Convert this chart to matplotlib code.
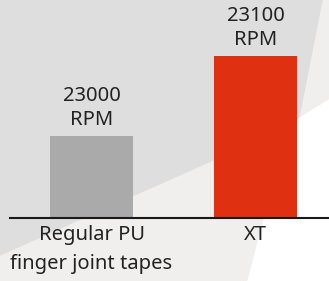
import matplotlib
matplotlib.use("Agg")
import matplotlib.pyplot as plt
from matplotlib.patches import Polygon

# data
categories = ["Regular PU\nfinger joint tapes", "XT"]
speeds = [23000, 23100]
unit = "RPM"
bar_colors = ["#a9aaa9", "#e03012"]

plt.rcParams['font.family'] = ['Noto Sans', 'DejaVu Sans']

W, H = 329, 281
fig = plt.figure(figsize=(W / 100, H / 100), dpi=100)

# background shapes, in pixel coords
bg = fig.add_axes([0, 0, 1, 1], zorder=0)
bg.set_xlim(0, W)
bg.set_ylim(H, 0)
bg.axis("off")
bg.add_patch(Polygon([(0, 0), (W, 0), (W, H), (0, H)], color="#f0efee"))
bg.add_patch(Polygon([(0, 0), (322, 0), (298, 122), (0, 255)], color="#dedede"))
bg.add_patch(Polygon([(W, 100), (289, 125), (248, H), (W, H)], color="#ffffff"))

ax = fig.add_axes([10 / W, 63 / H, 319 / W, 218 / H], zorder=1)
ax.patch.set_alpha(0)

x = range(len(categories))
ax.bar(x, speeds, width=0.506, color=bar_colors, zorder=2)
ax.set_xlim(-0.497, 1.448)
ax.set_ylim(22897.5, 23170)

for xi, v in zip(x, speeds):
    ax.annotate(f"{v}\n{unit}", (xi, v), xytext=(0, 4), textcoords="offset points",
                ha="center", va="bottom", fontsize=14.5, color="#222222",
                linespacing=1.3)

ax.set_xticks(list(x))
ax.set_xticklabels(categories, fontsize=14.5, color="#222222", linespacing=1.6,
                   va="top")
ax.tick_params(axis="x", length=0, pad=5)
ax.set_yticks([])
for side in ["top", "right", "left"]:
    ax.spines[side].set_visible(False)
ax.spines["bottom"].set_color("#1a1a1a")
ax.spines["bottom"].set_linewidth(1.5)
ax.spines["bottom"].set_zorder(3)

fig.savefig("out.png", dpi=100)
